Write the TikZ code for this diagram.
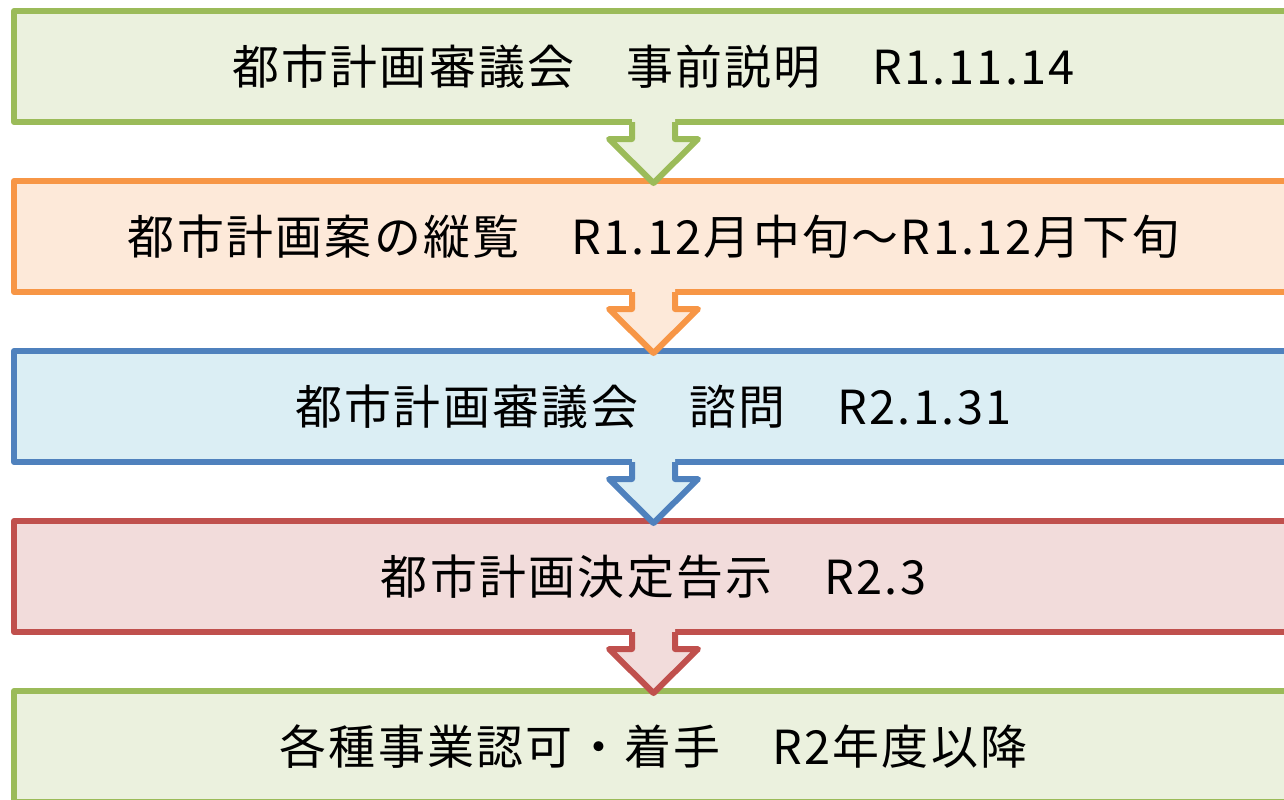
\documentclass[tikz,border=0pt]{standalone}
\usepackage{fontspec}
\setmainfont[LetterSpace=5]{Noto Sans CJK JP}
\usepackage{xcolor}
\definecolor{flowgreen}{RGB}{155,187,89}
\definecolor{flowgreenfill}{RGB}{235,241,222}
\definecolor{floworange}{RGB}{247,150,70}
\definecolor{floworangefill}{RGB}{253,233,217}
\definecolor{flowblue}{RGB}{79,129,189}
\definecolor{flowbluefill}{RGB}{219,238,244}
\definecolor{flowred}{RGB}{192,80,77}
\definecolor{flowredfill}{RGB}{242,220,219}
\usepackage{tikz}
\usetikzlibrary{calc}
\usetikzlibrary{positioning}
\newcommand{\widthstage}{25.58cm}
\newcommand{\heightstage}{2.22cm}
% block arrow from the bottom of #1 to the top of #2
\newcommand{\stagearrow}[3]{
    \fill[#3fill]
        ($(#1.south)+(-0.43,0.1)$) -- ($(#1.south)+(-0.43,-0.34)$) -- ($(#1.south)+(-0.89,-0.34)$)
        -- ($(#2.north)+(0,-0.04)$)
        -- ($(#1.south)+(0.89,-0.34)$) -- ($(#1.south)+(0.43,-0.34)$) -- ($(#1.south)+(0.43,0.1)$) -- cycle;
    \draw[#3, stageline]
        ($(#1.south)+(-0.43,0)$) -- ($(#1.south)+(-0.43,-0.34)$) -- ($(#1.south)+(-0.89,-0.34)$)
        -- ($(#2.north)+(0,-0.04)$)
        -- ($(#1.south)+(0.89,-0.34)$) -- ($(#1.south)+(0.43,-0.34)$) -- ($(#1.south)+(0.43,0)$);
}
\tikzset{
    stageline/.style={line width=0.12cm, line join=round},
    stage/.style={draw, stageline, rectangle, outer sep=0pt, minimum width=\widthstage, minimum height=\heightstage,
        font=\fontsize{26.7}{30}\selectfont},
    stage-green/.style={stage, draw=flowgreen, fill=flowgreenfill},
    stage-orange/.style={stage, draw=floworange, fill=floworangefill},
    stage-blue/.style={stage, draw=flowblue, fill=flowbluefill},
    stage-red/.style={stage, draw=flowred, fill=flowredfill}
}
\begin{document}
\begin{tikzpicture}[node distance=1.18cm]
      \useasboundingbox (0,0) rectangle (25.68,-15.98);

      \node[stage-green] (briefing) at (13.07,-1.33) {都市計画審議会　事前説明　R1.11.14};
      \node[stage-orange, below=of briefing] (inspection) {都市計画案の縦覧　R1.12月中旬～R1.12月下旬};
      \node[stage-blue, below=of inspection] (inquiry) {都市計画審議会　諮問　R2.1.31};
      \node[stage-red, below=of inquiry] (notice) {都市計画決定告示　R2.3};
      \node[stage-green, below=of notice] (approval) {各種事業認可・着手　R2年度以降};

      \stagearrow{briefing}{inspection}{flowgreen}
      \stagearrow{inspection}{inquiry}{floworange}
      \stagearrow{inquiry}{notice}{flowblue}
      \stagearrow{notice}{approval}{flowred}
\end{tikzpicture}
\end{document}
